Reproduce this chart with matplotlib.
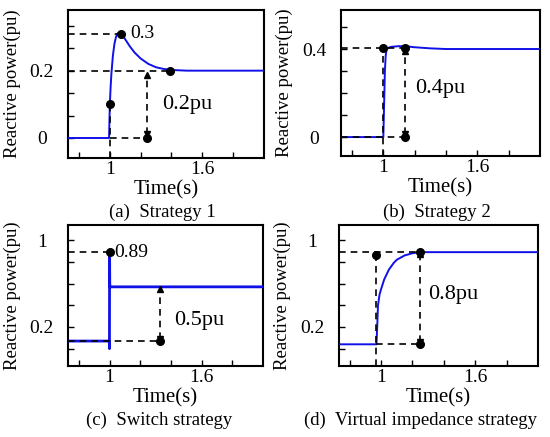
import matplotlib
matplotlib.use("Agg")
import matplotlib.pyplot as plt
import numpy as np

plt.rcParams['font.family'] = ['Liberation Serif', 'DejaVu Serif']
plt.rcParams['font.size'] = 14

# curves
t_a = [0.70, 0.995, 1.0, 1.005, 1.01, 1.02, 1.03, 1.04, 1.05, 1.06, 1.07, 1.08, 1.10, 1.13, 1.16, 1.20, 1.25, 1.30, 1.35, 1.40, 1.50, 1.60, 2.0]
q_a = [0.0, 0.0, 0.1, 0.15, 0.19, 0.245, 0.28, 0.3, 0.31, 0.313, 0.312, 0.307, 0.293, 0.272, 0.254, 0.236, 0.22, 0.21, 0.205, 0.202, 0.2, 0.2, 0.2]

t_b = [0.70, 1.0, 1.005, 1.01, 1.015, 1.02, 1.03, 1.05, 1.10, 1.15, 1.20, 1.30, 1.40, 2.0]
q_b = [0.0, 0.0, 0.15, 0.3, 0.37, 0.395, 0.405, 0.41, 0.413, 0.412, 0.408, 0.403, 0.4, 0.4]

t_c = [0.70, 0.998, 0.999, 1.0, 1.001, 1.003, 2.0]
q_c = [0.07, 0.07, 0.0, 0.89, 0.6, 0.57, 0.57]

t_d = [0.70, 0.97, 0.975, 0.98, 0.99, 1.0, 1.02, 1.05, 1.08, 1.10, 1.15, 1.20, 1.25, 1.30, 2.0]
q_d = [0.04, 0.04, 0.2, 0.4, 0.5, 0.55, 0.64, 0.73, 0.79, 0.82, 0.86, 0.88, 0.89, 0.89, 0.89]

captions = ["(a)  Strategy 1", "(b)  Strategy 2", "(c)  Switch strategy", "(d)  Virtual impedance strategy"]
x_labels = ["1", "1.6"]
y_labels = [["0", "0.2"], ["0", "0.4"], ["0.2", "1"], ["0.2", "1"]]

fig = plt.figure(figsize=(5.5, 4.37), dpi=100)
boxes = [[0.124, 0.638, 0.356, 0.339],
         [0.620, 0.643, 0.362, 0.334],
         [0.124, 0.1625, 0.354, 0.3225],
         [0.616, 0.1625, 0.362, 0.3225]]
ylims = [(-0.06, 0.38), (-0.086, 0.577), (-0.16, 1.14), (-0.16, 1.14)]
ymajor = [[0, 0.2], [0, 0.4], [0.2, 1.0], [0.2, 1.0]]
yminor = [[0.0667, 0.1333, 0.2667, 0.3333], [0.1, 0.2, 0.3, 0.5], [0.0, 0.4, 0.6, 0.8], [0.0, 0.4, 0.6, 0.8]]
curves = [(t_a, q_a), (t_b, q_b), (t_c, q_c), (t_d, q_d)]
caption_pos = [(0.295, 0.515), (0.795, 0.515), (0.29, 0.039), (0.765, 0.039)]

axes = []
for i in range(4):
    ax = fig.add_axes(boxes[i])
    t, q = curves[i]
    ax.plot(t, q, color='#1010e8', lw=2.0 if i == 2 else 1.4, zorder=3)
    ax.set_xlim(0.73, 2.0)
    ax.set_ylim(*ylims[i])
    ax.set_xticks([1.0, 1.6])
    ax.set_xticklabels(x_labels)
    ax.set_xticks([0.8, 1.2, 1.4, 1.8], minor=True)
    ax.set_yticks(ymajor[i])
    ax.set_yticklabels(y_labels[i], ha='center')
    ax.set_yticks(yminor[i], minor=True)
    ax.tick_params(which='both', direction='in', length=4, width=1, labelsize=14)
    ax.tick_params(axis='y', pad=19)
    ax.tick_params(axis='x', pad=2)
    for s in ax.spines.values():
        s.set_linewidth(1.5)
    ax.set_xlabel("Time(s)", fontsize=15, labelpad=1.5)
    ax.set_ylabel("Reactive power(pu)", fontsize=13.5)
    ax.yaxis.set_label_coords(-0.24, 0.5)
    fig.text(caption_pos[i][0], caption_pos[i][1], captions[i], fontsize=13.5, ha='center', va='center')
    axes.append(ax)

dash = dict(color='k', ls=(0, (4, 3)), lw=1.2, zorder=4)
dot = dict(marker='o', color='k', ms=5.5, ls='none', zorder=5)

def darrow(ax, x, y0, y1):
    ax.plot([x, x], [y0, y1], **dash)
    ax.plot([x], [y1], marker='^', color='k', ms=5, zorder=5)
    ax.plot([x], [y0], marker='v', color='k', ms=5, zorder=5)

# (a)
ax = axes[0]
ax.plot([0.73, 1.07], [0.31, 0.31], **dash)
ax.plot([0.73, 1.39], [0.2, 0.2], **dash)
ax.plot([1.0, 1.0], [-0.06, 0.1], **dash)
ax.plot([1.0, 1.24], [0.0, 0.0], **dash)
darrow(ax, 1.24, 0.012, 0.188)
ax.plot([1.0, 1.07, 1.39, 1.24], [0.1, 0.31, 0.2, 0.0], **dot)
ax.text(1.13, 0.31, "0.3", fontsize=14, va='center')
ax.text(1.34, 0.1, "0.2pu", fontsize=16, va='center')

# (b)
ax = axes[1]
ax.plot([0.73, 1.14], [0.405, 0.405], **dash)
ax.plot([1.0, 1.0], [-0.086, 0.405], **dash)
ax.plot([0.73, 1.14], [0.0, 0.0], **dash)
darrow(ax, 1.14, 0.015, 0.39)
ax.plot([1.0, 1.14, 1.14], [0.405, 0.405, 0.0], **dot)
ax.text(1.2, 0.22, "0.4pu", fontsize=16, va='center')

# (c)
ax = axes[2]
ax.plot([0.73, 1.0], [0.89, 0.89], **dash)
ax.plot([0.73, 1.33], [0.07, 0.07], **dash)
darrow(ax, 1.33, 0.09, 0.55)
ax.plot([1.0, 1.33], [0.89, 0.07], **dot)
ax.text(1.03, 0.89, "0.89", fontsize=14, va='center')
ax.text(1.42, 0.26, "0.5pu", fontsize=16, va='center')

# (d)
ax = axes[3]
ax.plot([0.73, 1.245], [0.89, 0.89], **dash)
ax.plot([0.97, 0.97], [-0.16, 0.86], **dash)
ax.plot([0.97, 1.245], [0.04, 0.04], **dash)
darrow(ax, 1.245, 0.06, 0.87)
ax.plot([0.97, 1.245, 1.245], [0.86, 0.89, 0.04], **dot)
ax.text(1.3, 0.5, "0.8pu", fontsize=16, va='center')

fig.savefig("out.png", dpi=100)
